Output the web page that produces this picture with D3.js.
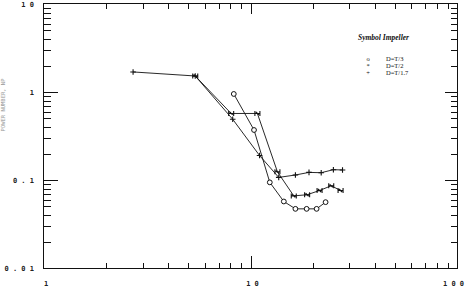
<!DOCTYPE html>
<html>
<head>
<meta charset="utf-8">
<script src="https://cdn.jsdelivr.net/npm/d3@7"></script>
</head>
<body style="margin:0">
<div id="content"></div>
<script>
// values (log-log)
const seriesNames = ["D=T/3", "D=T/2", "D=T/1.7"];
const xT3 = [8.3, 10.4, 12.4, 14.5, 16.5, 18.7, 20.9, 23.1];
const yT3 = [0.95, 0.37, 0.094, 0.057, 0.047, 0.047, 0.047, 0.056];
const xT2 = [5.4, 8.06, 10.8, 13.5, 16.2, 18.8, 21.6, 24.6, 27.3];
const yT2 = [1.52, 0.57, 0.57, 0.124, 0.066, 0.068, 0.076, 0.086, 0.076];
const xT17 = [2.7, 5.4, 8.2, 11.06, 13.7, 16.5, 19.2, 22.0, 25.2, 27.9];
const yT17 = [1.69, 1.52, 0.49, 0.19, 0.107, 0.114, 0.122, 0.121, 0.131, 0.13];
const xTickLabels = ["1", "10", "100"];
const yTickLabels = ["0.01", "0.1", "1", "10"];

const W = 465, H = 290;
const box = { left:44, right:457, top:4, bottom:268 };

const x = d3.scaleLog().domain([1, 100]).range([box.left, box.right]);
const y = d3.scaleLog().domain([0.01, 10]).range([box.bottom, box.top]);

const svg = d3.select("#content").append("svg")
    .attr("width", W).attr("height", H);

// tick labels, typewriter style
const spaced = t => t.split("").join(" ");
const lab = svg.append("g")
    .attr("font-family", "DejaVu Sans Mono, monospace")
    .attr("font-weight", "bold").attr("font-size", 7)
    .attr("fill", "#222");
yTickLabels.forEach(t => {
    lab.append("text").attr("x", 34).attr("y", y(+t) + 2.5)
        .attr("text-anchor", "end").text(spaced(t));
});
xTickLabels.forEach((t, i) => {
    lab.append("text")
        .attr("x", i === 2 ? 443 : x(+t) + 2)
        .attr("y", 286)
        .attr("text-anchor", i === 2 ? "start" : "middle")
        .text(spaced(t));
});

// y-axis title, faint at the left edge
svg.append("text")
    .attr("transform", "translate(5,105) rotate(-90)")
    .attr("text-anchor", "middle")
    .attr("font-family", "DejaVu Sans Mono, monospace")
    .attr("font-size", 5.5).attr("fill", "#999")
    .text("POWER NUMBER, NP");

// series
const line = d3.line().x(d => x(d[0])).y(d => y(d[1]));
const zip = (a, b) => a.map((v, i) => [v, b[i]]);
const series = [zip(xT3, yT3), zip(xT2, yT2), zip(xT17, yT17)];

const plot = svg.append("g");
series.forEach(s => {
    plot.append("path").attr("d", line(s))
        .attr("fill", "none").attr("stroke", "#111").attr("stroke-width", 0.9);
});

function marker(g, kind, px, py) {
    if (kind === 0) {
        g.append("circle").attr("cx", px).attr("cy", py).attr("r", 2.4)
            .attr("fill", "#fff").attr("stroke", "#111").attr("stroke-width", 1);
    } else if (kind === 1) {
        g.append("path")
            .attr("d", `M${px-2.5},${py-2.5}V${py+2.5}M${px+2.5},${py-2.5}V${py+2.5}M${px-2.5},${py}H${px+2.5}M${px-1.5},${py-1.5}L${px+1.5},${py+1.5}`)
            .attr("fill", "none").attr("stroke", "#111").attr("stroke-width", 1.1);
    } else {
        g.append("path")
            .attr("d", `M${px-2.8},${py}H${px+2.8}M${px},${py-2.8}V${py+2.8}`)
            .attr("fill", "none").attr("stroke", "#111").attr("stroke-width", 1.1);
    }
}
series.forEach((s, k) => s.forEach(d => marker(plot, k, x(d[0]), y(d[1]))));

// legend
const leg = svg.append("g").attr("font-family", "Liberation Serif, serif").attr("fill", "#111");
leg.append("text").attr("x", 358).attr("y", 40)
    .attr("font-size", 7.5).attr("font-weight", "bold").attr("font-style", "italic")
    .text("Symbol  Impeller");
const legSymbols = ["o", "*", "+"];
seriesNames.forEach((n, i) => {
    const ly = 61 + i * 7;
    leg.append("text").attr("x", 368).attr("y", ly).attr("font-size", 6.5)
        .attr("text-anchor", "middle").text(legSymbols[i]);
    leg.append("text").attr("x", 386).attr("y", ly).attr("font-size", 6.5).text(n);
});

// frame and ticks as filled bars (pixel-aligned), drawn on top
const axisG = svg.append("g").attr("fill", "#111");
const bar = (x0, y0, w, h) => axisG.append("rect")
    .attr("x", Math.round(x0)).attr("y", Math.round(y0))
    .attr("width", Math.max(1, Math.round(w))).attr("height", Math.max(1, Math.round(h)));

bar(box.left - 1, box.top - 1, box.right - box.left + 2, 1);   // top
bar(box.left - 1, box.bottom, box.right - box.left + 2, 1);    // bottom
bar(box.left - 1, box.top - 1, 1, box.bottom - box.top + 2);   // left
bar(box.right, box.top - 1, 1, box.bottom - box.top + 2);      // right

const isMajor = v => Math.abs(Math.log10(v) - Math.round(Math.log10(v))) < 1e-6;
x.ticks().forEach(v => {
    if (v <= 1 || v >= 100) return;
    const px = x(v), big = isMajor(v);
    const lb = big ? 12 : 5, lt = big ? 10 : 5;
    bar(px, box.bottom - lb, 1, lb);
    bar(px, box.top, 1, lt);
});
y.ticks().forEach(v => {
    if (v <= 0.01 || v >= 10) return;
    const py = y(v), big = isMajor(v);
    const ll = big ? 14 : 7, lr = big ? 12 : 6;
    bar(box.left, py, ll, 1);
    bar(box.right - lr, py, lr, 1);
});
</script>
</body>
</html>
